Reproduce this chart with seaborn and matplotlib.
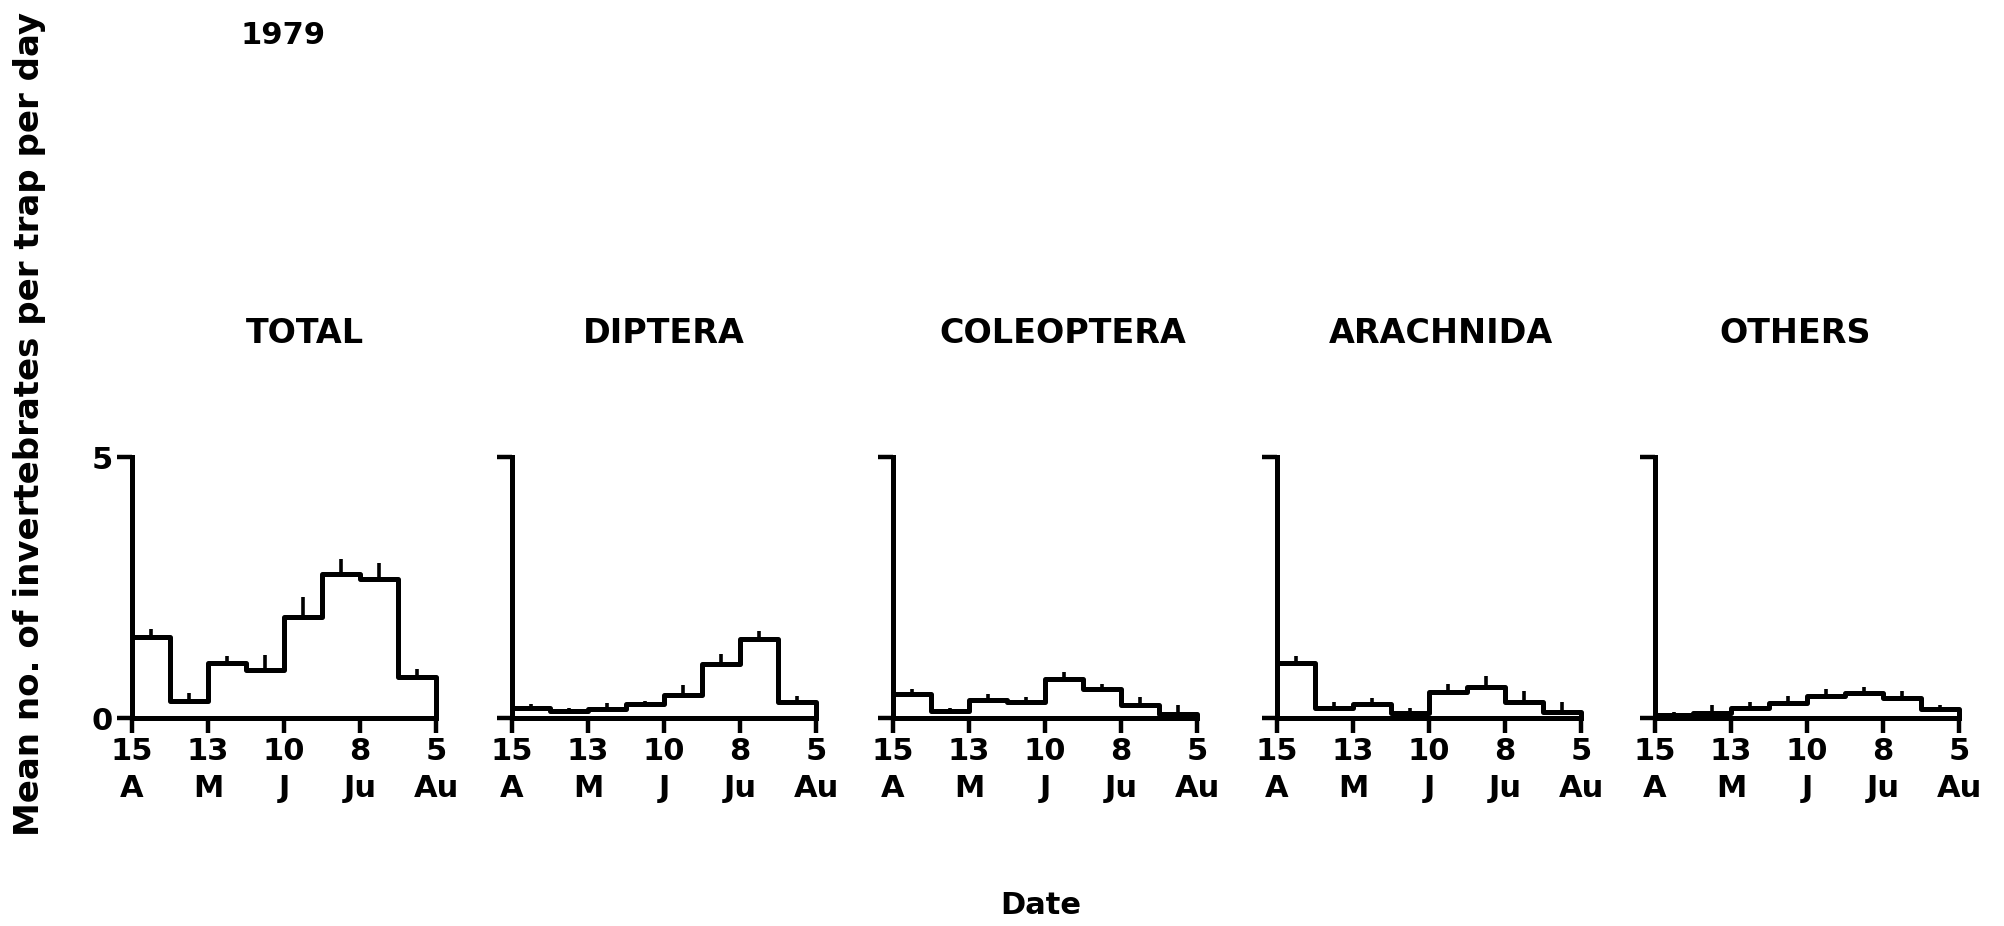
import matplotlib
matplotlib.use("Agg")
import matplotlib.pyplot as plt
import numpy as np
import pandas as pd
import seaborn as sns

# invertebrates caught in pitfall traps, 1979 - means with upper SE per 2 week period

sns.set_style("ticks")
plt.rcParams["font.family"] = ["DejaVu Sans"]
plt.rcParams["font.weight"] = "bold"
plt.rcParams["text.color"] = "black"
plt.rcParams["xtick.color"] = "black"
plt.rcParams["ytick.color"] = "black"

# sampling periods as days after 15 April
period_start = [0, 14, 28, 42, 56, 70, 84, 98]
period_end = 112
tick_days = [0, 28, 56, 84, 112]
tick_labels = ["15\nA", "13\nM", "10\nJ", "8\nJu", "5\nAu"]

groups = ["TOTAL", "DIPTERA", "COLEOPTERA", "ARACHNIDA", "OTHERS"]

total_mean = [1.56, 0.33, 1.05, 0.92, 1.94, 2.76, 2.66, 0.79]
total_se = [0.14, 0.15, 0.14, 0.28, 0.38, 0.29, 0.30, 0.15]
diptera_mean = [0.19, 0.13, 0.17, 0.27, 0.44, 1.04, 1.52, 0.30]
diptera_se = [0.08, 0.07, 0.11, 0.05, 0.19, 0.19, 0.15, 0.12]
coleoptera_mean = [0.46, 0.14, 0.34, 0.30, 0.74, 0.55, 0.24, 0.08]
coleoptera_se = [0.09, 0.05, 0.12, 0.11, 0.15, 0.11, 0.17, 0.16]
arachnida_mean = [1.06, 0.19, 0.27, 0.10, 0.49, 0.59, 0.30, 0.11]
arachnida_se = [0.12, 0.11, 0.11, 0.09, 0.16, 0.21, 0.22, 0.19]
others_mean = [0.05, 0.10, 0.20, 0.28, 0.43, 0.47, 0.38, 0.18]
others_se = [0.07, 0.14, 0.10, 0.14, 0.13, 0.12, 0.14, 0.07]

means = [total_mean, diptera_mean, coleoptera_mean, arachnida_mean, others_mean]
ses = [total_se, diptera_se, coleoptera_se, arachnida_se, others_se]

W, H = 2004, 926
fig = plt.figure(figsize=(W / 100, H / 100), dpi=100)

lefts = [132, 512, 893, 1277, 1655]
title_x = [0.57, 0.5, 0.56, 0.54, 0.46]

for i, name in enumerate(groups):
    ax = fig.add_axes([lefts[i] / W, 1 - 718 / H, 304 / W, 261 / H])
    mids = [s + (period_end - period_start[-1]) / 2 for s in period_start]
    m = means[i]
    # outline of the stepped histogram, closed to the baseline at both ends
    df = pd.DataFrame({
        "day": [period_start[0]] + period_start + [period_end, period_end],
        "val": [0] + m + [m[-1], 0],
    })
    sns.lineplot(data=df, x="day", y="val", ax=ax, color="black", lw=3.6,
                 estimator=None, sort=False, drawstyle="steps-post", clip_on=False)
    top = np.array(m) + np.array(ses[i])
    ax.vlines(mids, m, top, color="black", lw=2.6, clip_on=False)

    ax.set_xlim(0, period_end)
    ax.set_ylim(0, 5)
    ax.set_xticks(tick_days)
    ax.set_xticklabels(tick_labels, fontsize=22, fontweight="bold")
    for lab in ax.get_xticklabels():
        lab.set_linespacing(1.35)
    ax.set_yticks([0, 5])
    if i == 0:
        ax.set_yticklabels(["0", "5"], fontsize=22, fontweight="bold")
    else:
        ax.set_yticklabels([])
    ax.tick_params(direction="out", length=11, width=3.2, pad=3, color="black")
    sns.despine(ax=ax)
    for sp in ["left", "bottom"]:
        ax.spines[sp].set_linewidth(3.6)
        ax.spines[sp].set_color("black")
    ax.set_xlabel("")
    ax.set_ylabel("")
    ax.set_title(name, fontsize=24, fontweight="bold", pad=82, x=title_x[i])

fig.text(283 / W, 1 - 36 / H, "1979", ha="center", va="center", fontsize=22, fontweight="bold")
fig.text(1041 / W, 1 - 905 / H, "Date", ha="center", va="center", fontsize=22, fontweight="bold")
fig.text(30 / W, 1 - 424 / H, "Mean no. of invertebrates per trap per day", rotation=90,
         ha="center", va="center", fontsize=24.5, fontweight="bold")

fig.savefig("out.png", dpi=100, facecolor="white")
